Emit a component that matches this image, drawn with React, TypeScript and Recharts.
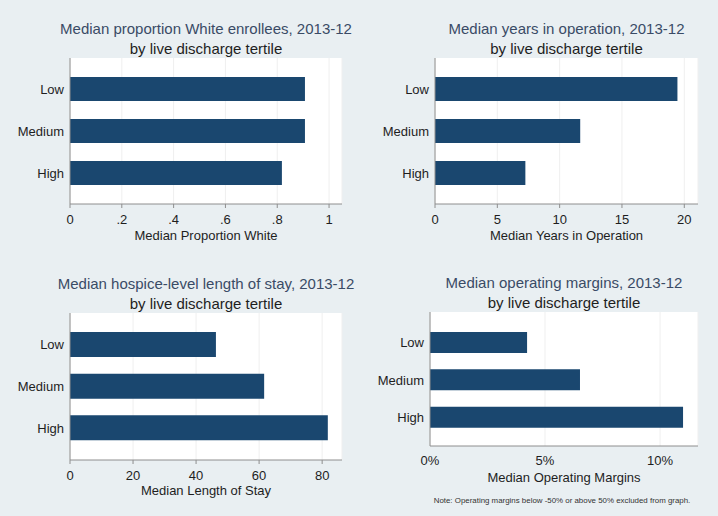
import { BarChart, Bar, XAxis, YAxis, CartesianGrid } from "recharts";

const tertiles = ["Low", "Medium", "High"];

const propWhite = [0.907, 0.907, 0.818];
const yearsInOperation = [19.45, 11.65, 7.25];
const lengthOfStay = [46.3, 61.6, 81.8];
const operatingMargin = [4.22, 6.52, 11.0];

const propWhiteTicks = [0, 0.2, 0.4, 0.6, 0.8, 1];
const yearsTicks = [0, 5, 10, 15, 20];
const stayTicks = [0, 20, 40, 60, 80];
const marginTicks = [0, 5, 10];

const FONT = '"Liberation Sans", Arial, Helvetica, sans-serif';
const BG = "#e9eff2";
const BAR = "#1a476f";
const QW = 359;
const QH = 258;
const YW = 60;
const XH = 30;

const stataNum = (v: number) => {
  if (v === 0 || v === 1) return String(v);
  return String(v).replace(/^0\./, ".");
};

type PanelProps = {
  ox: number;
  oy: number;
  plot: { l: number; t: number; r: number; b: number };
  title: string;
  xLabel: string;
  xLabelY: number;
  values: number[];
  domain: [number, number];
  ticks: number[];
  fmt: (v: number) => string;
  pad: { top: number; bottom: number };
  barSize: number;
  tickSize: number;
  tickMargin: number;
};

function Panel(p: PanelProps) {
  const data = tertiles.map((name, i) => ({ name, value: p.values[i] }));
  const margin = {
    left: p.plot.l - p.ox - YW,
    top: p.plot.t - p.oy,
    right: p.ox + QW - p.plot.r,
    bottom: p.oy + QH - p.plot.b - XH,
  };
  const cx = (p.plot.l + p.plot.r) / 2 - p.ox;
  return (
    <div style={{ position: "absolute", left: p.ox, top: p.oy, width: QW, height: QH }}>
      <BarChart width={QW} height={QH} data={data} layout="vertical" margin={margin}>
        <CartesianGrid horizontal={false} stroke="#efefef" fill="#ffffff" />
        <XAxis
          type="number"
          domain={p.domain}
          ticks={p.ticks}
          tickFormatter={p.fmt}
          allowDataOverflow
          height={XH}
          stroke="#8e8e8e"
          tickSize={p.tickSize}
          tickMargin={p.tickMargin}
          tick={{ fill: "#1e1e1e", fontSize: 13, fontFamily: FONT }}
        />
        <YAxis
          type="category"
          dataKey="name"
          width={YW}
          padding={p.pad}
          stroke="#8e8e8e"
          tickLine={false}
          tickSize={6}
          tickMargin={0}
          tick={{ fill: "#1e1e1e", fontSize: 13, fontFamily: FONT }}
        />
        <Bar dataKey="value" fill={BAR} barSize={p.barSize} isAnimationActive={false} />
      </BarChart>
      <svg
        width={QW}
        height={QH}
        style={{ position: "absolute", left: 0, top: 0, pointerEvents: "none" }}
      >
        <g fontFamily={FONT} textAnchor="middle" dominantBaseline="central">
          <text x={cx} y={p.plot.t - p.oy - 30} fontSize={15} fill="#3a4b66">
            {p.title}
          </text>
          <text x={cx} y={p.plot.t - p.oy - 10} fontSize={15} fill="#1e1e1e">
            by live discharge tertile
          </text>
          <text x={cx} y={p.xLabelY - p.oy} fontSize={13} fill="#1e1e1e">
            {p.xLabel}
          </text>
        </g>
      </svg>
    </div>
  );
}

export default function App() {
  return (
    <div
      style={{
        position: "absolute",
        left: 0,
        top: 0,
        width: 718,
        height: 516,
        background: BG,
        overflow: "hidden",
      }}
    >
      <Panel
        ox={0}
        oy={0}
        plot={{ l: 70, t: 58, r: 342, b: 204 }}
        title="Median proportion White enrollees, 2013-12"
        xLabel="Median Proportion White"
        xLabelY={235}
        values={propWhite}
        domain={[0, 1.05]}
        ticks={propWhiteTicks}
        fmt={stataNum}
        pad={{ top: 10, bottom: 10 }}
        barSize={24}
        tickSize={4}
        tickMargin={7}
      />
      <Panel
        ox={359}
        oy={0}
        plot={{ l: 435, t: 58, r: 698, b: 204 }}
        title="Median years in operation, 2013-12"
        xLabel="Median Years in Operation"
        xLabelY={235}
        values={yearsInOperation}
        domain={[0, 21.1]}
        ticks={yearsTicks}
        fmt={(v: number) => String(v)}
        pad={{ top: 10, bottom: 10 }}
        barSize={24}
        tickSize={4}
        tickMargin={7}
      />
      <Panel
        ox={0}
        oy={258}
        plot={{ l: 70, t: 313, r: 342, b: 460 }}
        title="Median hospice-level length of stay, 2013-12"
        xLabel="Median Length of Stay"
        xLabelY={490}
        values={lengthOfStay}
        domain={[0, 86.3]}
        ticks={stayTicks}
        fmt={(v: number) => String(v)}
        pad={{ top: 11, bottom: 11 }}
        barSize={25}
        tickSize={4}
        tickMargin={7}
      />
      <Panel
        ox={359}
        oy={258}
        plot={{ l: 430, t: 312, r: 698, b: 446 }}
        title="Median operating margins, 2013-12"
        xLabel="Median Operating Margins"
        xLabelY={477}
        values={operatingMargin}
        domain={[0, 11.65]}
        ticks={marginTicks}
        fmt={(v: number) => `${v}%`}
        pad={{ top: 12, bottom: 10 }}
        barSize={21}
        tickSize={0}
        tickMargin={10}
      />
      <div
        style={{
          position: "absolute",
          left: 432,
          top: 496,
          width: 260,
          textAlign: "center",
          fontFamily: FONT,
          fontSize: 7.9,
          color: "#333",
          whiteSpace: "nowrap",
        }}
      >
        Note: Operating margins below -50% or above 50% excluded from graph.
      </div>
    </div>
  );
}
